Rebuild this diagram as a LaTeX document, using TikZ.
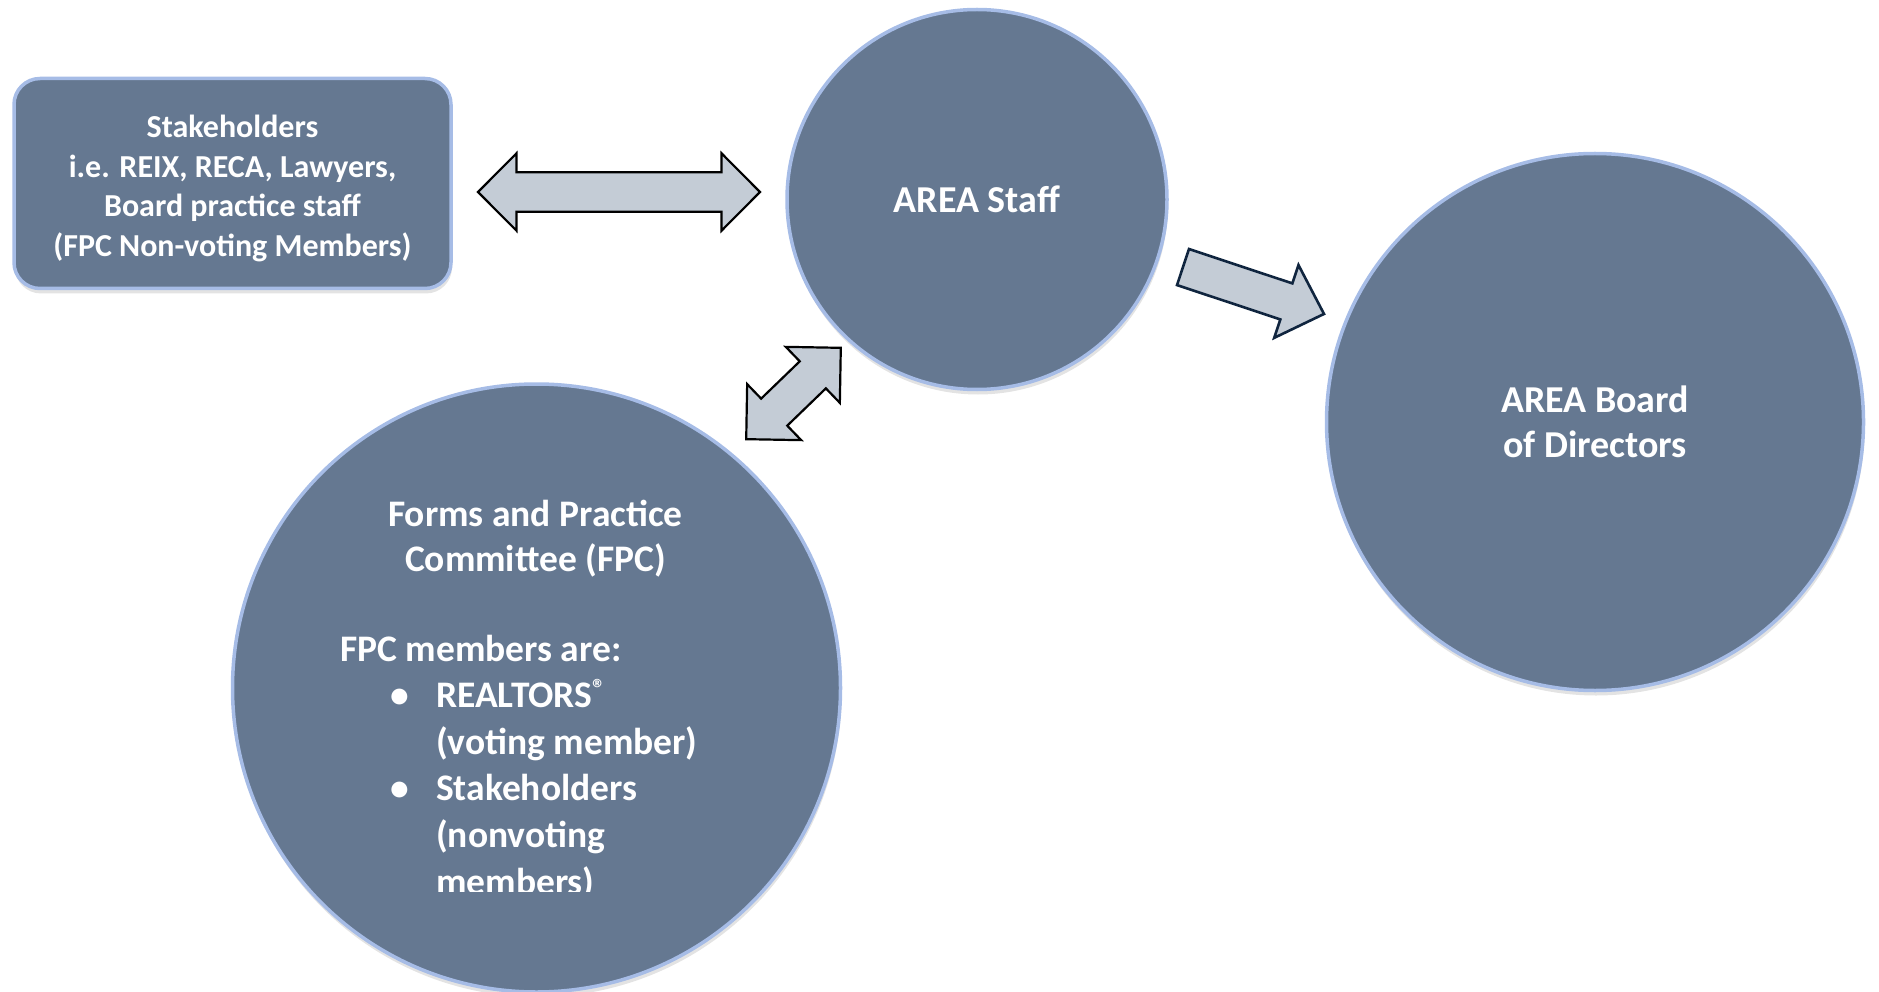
\documentclass[tikz,border=0pt]{standalone}
\usepackage{fontspec}
\setmainfont{Carlito}
\usepackage{xcolor}
\usetikzlibrary{positioning}
\usetikzlibrary{shadows}

\definecolor{nodefill}{RGB}{101,120,145}
\definecolor{glow}{RGB}{166,188,230}
\definecolor{arrowfill}{RGB}{196,204,214}
\definecolor{navy}{RGB}{16,37,63}

\tikzset{
    blob/.style={fill=nodefill, draw=glow, line width=3.5pt, text=white,
        drop shadow={opacity=0.22, shadow xshift=1pt, shadow yshift=-5pt}},
    bubble/.style={blob, circle, inner sep=0pt},
    whitetext/.style={text=white, inner sep=0pt},
    blockarrow/.style={fill=arrowfill, draw=black, line width=2.2pt, line join=miter},
}

\begin{document}
\begin{tikzpicture}[x=1pt,y=-1pt]
        \useasboundingbox (0,0) rectangle (1879,992);

        \node[blob, rounded corners=26pt, minimum width=437pt, minimum height=210pt] (stake) at (232.5,183.5) {};
        \node[whitetext, align=center, font=\bfseries\fontsize{32}{39.5}\selectfont] (staketext) at (232.5,188.5)
              {Stakeholders\\i.e. REIX, RECA, Lawyers,\\Board practice staff\\(FPC Non-voting Members)};
        \node[bubble, minimum size=380pt, font=\bfseries\fontsize{38}{45}\selectfont] (staff) at (977,199.5) {AREA Staff};
        \node[bubble, minimum size=537pt, align=center, font=\bfseries\fontsize{38}{45}\selectfont] (board) at (1595,422)
              {AREA Board\\of Directors};
        \node[bubble, minimum size=608pt] (fpc) at (536.5,688) {};

        \node[whitetext, align=center, anchor=base, font=\bfseries\fontsize{37.5}{45}\selectfont] (fpctitle) at (535.5,571)
              {Forms and Practice\\Committee (FPC)};
        \begin{scope}
            \clip (0,0) rectangle (1879,891);
            \node[whitetext, align=left, anchor=base west, font=\bfseries\fontsize{37.5}{46.6}\selectfont] (fpclist) at (340,894)
                  {FPC members are:\\
                   \hspace*{50pt}\makebox[46pt][l]{\textbullet}REALTORS{\fontsize{26}{26}\selectfont\raisebox{10pt}{®}}\\
                   \hspace*{96pt}(voting member)\\
                   \hspace*{50pt}\makebox[46pt][l]{\textbullet}Stakeholders\\
                   \hspace*{96pt}(nonvoting\\
                   \hspace*{96pt}members)};
        \end{scope}

        % block arrows
        \draw[blockarrow, shift={(619,192)}]
            (-141,0) -- (-102.5,-38.7) -- (-102.5,-19.7) -- (102.5,-19.7) -- (102.5,-38.7)
            -- (141,0) -- (102.5,38.7) -- (102.5,19.7) -- (-102.5,19.7) -- (-102.5,38.7) -- cycle;
        \draw[blockarrow, shift={(793.5,393.5)}, rotate=44]
            (-65.75,0) -- (-26.85,-38.9) -- (-26.85,-18.8) -- (26.85,-18.8) -- (26.85,-38.9)
            -- (65.75,0) -- (26.85,38.9) -- (26.85,18.8) -- (-26.85,18.8) -- (-26.85,38.9) -- cycle;
        \draw[blockarrow, draw=navy, line width=2.6pt, shift={(1253.5,290.5)}, rotate=-18.4]
            (-74.3,-19) -- (34.6,-19) -- (34.6,-38.4) -- (74.3,0) -- (34.6,38.4) -- (34.6,19) -- (-74.3,19) -- cycle;
\end{tikzpicture}
\end{document}
